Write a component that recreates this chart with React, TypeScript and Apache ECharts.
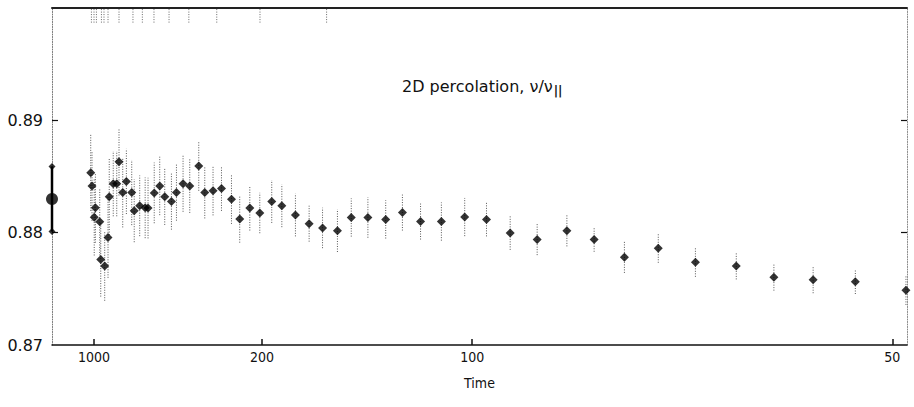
import React, { useEffect, useRef } from "react";
import * as echarts from "echarts";

// Time of each measured point (x axis is linear in 1/Time)
const times = [
  1085, 1050, 968, 995, 880, 862, 797, 750, 734, 686,
  649, 627, 594, 565, 527, 511, 479, 451, 437.5, 411,
  390, 372.7, 351.8, 337.6, 320.6, 305, 286.3, 275, 260.9, 247.9,
  234.1, 223.8, 212.4, 202.2, 191.2, 182.8, 172.6, 163.4, 155.3, 147.2,
  140.4, 133.0, 125.9, 119.9, 114.0, 107.9, 101.8, 96.7, 91.7, 86.6,
  81.6, 77.5, 73.4, 69.3, 65.3, 61.4, 58.2, 55.2, 52.3, 49.2,
];
// nu / nu_parallel estimate at each time
const values = [
  0.88534, 0.88416, 0.88221, 0.88137, 0.88097, 0.87761, 0.87704, 0.87958, 0.88319, 0.88436,
  0.88436, 0.88631, 0.88357, 0.88456, 0.88357, 0.88195, 0.88239, 0.88221, 0.88219, 0.88354,
  0.88416, 0.88319, 0.88277, 0.88357, 0.88436, 0.88416, 0.88593, 0.88357, 0.88374, 0.88394,
  0.88298, 0.88121, 0.88219, 0.88175, 0.88277, 0.88239, 0.88157, 0.8808, 0.88042, 0.88018,
  0.88135, 0.88135, 0.88118, 0.88179, 0.88099, 0.88099, 0.88139, 0.88117, 0.87997, 0.8794,
  0.88018, 0.8794, 0.87782, 0.87862, 0.87737, 0.87704, 0.87604, 0.87581, 0.87564, 0.87487,
];
// half-length of each error bar
const errors = [
  0.0034, 0.0031, 0.0031, 0.0034, 0.0030, 0.0033, 0.0031, 0.0036, 0.0034, 0.0029,
  0.0029, 0.0030, 0.0031, 0.0029, 0.0029, 0.0028, 0.0027, 0.0027, 0.0027, 0.0027,
  0.0026, 0.0025, 0.0025, 0.0025, 0.0025, 0.0024, 0.0022, 0.0023, 0.0022, 0.0020,
  0.0022, 0.0021, 0.0020, 0.0018, 0.0019, 0.0019, 0.0019, 0.0016, 0.0018, 0.0019,
  0.0017, 0.0018, 0.0017, 0.0016, 0.0016, 0.0017, 0.0017, 0.0015, 0.0015, 0.0014,
  0.0014, 0.0011, 0.0014, 0.0013, 0.0013, 0.0012, 0.0012, 0.0012, 0.0011, 0.0013,
];
// extrapolated value (Time -> infinity)
const extrapolatedValue = 0.883;
const extrapolatedError = 0.0029;

const xTickTimes = [1000, 200, 100, 50];
const yTickLabels = [0.87, 0.88, 0.89];
const yInnerTicks = [0.88, 0.89];
// short dotted marks hanging from the top frame
const topMarkTimes = [1066, 1000, 946, 850, 808, 750, 627, 519, 465, 412, 359, 307, 255, 202, 153];

const FONT_C = "'DejaVu Sans Condensed', 'DejaVu Sans', sans-serif";
const FONT = "'DejaVu Sans', sans-serif";
const INK = "#111";

export default function App() {
  const ref = useRef<HTMLDivElement>(null);
  useEffect(() => {
    if (!ref.current) return;
    const chart = echarts.init(ref.current, undefined, { renderer: "svg" });
    const pts = times.map((t, i) => [1 / t, values[i], errors[i]]);
    const bars = pts.map((p) => [p[0], p[1] - p[2], p[1] + p[2]]);
    const xMin = 0;
    const xMax = 0.02035;
    const extraBar = [[0, extrapolatedValue - extrapolatedError, extrapolatedValue + extrapolatedError]];
    const topMarks = topMarkTimes.map((t) => [1 / t, 0.8987, 0.9]);

    const lineItem = (stroke: string, width: number, dash: number[] | null) =>
      (params: any, api: any) => {
        const a = api.coord([api.value(0), api.value(1)]);
        const b = api.coord([api.value(0), api.value(2)]);
        return {
          type: "line",
          shape: { x1: a[0], y1: a[1], x2: b[0], y2: b[1] },
          style: { stroke, lineWidth: width, lineDash: dash || undefined },
        };
      };

    chart.setOption({
      animation: false,
      backgroundColor: "#fff",
      grid: { left: 52, right: 7, top: 8, bottom: 62, containLabel: false },
      xAxis: [
        {
          type: "value",
          min: xMin,
          max: xMax,
          position: "bottom",
          axisLine: { show: true, onZero: false, lineStyle: { color: INK, width: 1.5 } },
          axisTick: {
            show: true,
            inside: true,
            length: 6,
            customValues: xTickTimes.map((t) => 1 / t),
            lineStyle: { color: INK, width: 1.5 },
          },
          axisLabel: {
            customValues: xTickTimes.map((t) => 1 / t),
            formatter: (v: number) => String(Math.round(1 / v)),
            color: INK,
            fontSize: 14,
            fontFamily: FONT_C,
            margin: 5,
          },
          splitLine: { show: false },
          name: "Time",
          nameLocation: "middle",
          nameGap: 31,
          nameTextStyle: { color: INK, fontSize: 14, fontFamily: FONT_C },
        },
        {
          type: "value",
          min: xMin,
          max: xMax,
          position: "top",
          axisLine: { show: true, onZero: false, lineStyle: { color: "#222", width: 2 } },
          axisTick: { show: false },
          axisLabel: { show: false },
          splitLine: { show: false },
        },
      ],
      yAxis: [
        {
          type: "value",
          min: 0.87,
          max: 0.9,
          position: "left",
          axisLine: { show: true, onZero: false, lineStyle: { color: "#777", width: 1, type: [1, 1.5] } },
          axisTick: {
            show: true,
            inside: true,
            length: 6,
            customValues: yInnerTicks,
            lineStyle: { color: INK, width: 1.2 },
          },
          axisLabel: {
            customValues: yTickLabels,
            formatter: (v: number) => v.toFixed(2),
            color: INK,
            fontSize: 16,
            fontFamily: FONT,
            margin: 9,
          },
          splitLine: { show: false },
        },
        {
          type: "value",
          min: 0.87,
          max: 0.9,
          position: "right",
          axisLine: { show: true, onZero: false, lineStyle: { color: "#888", width: 1, type: [1, 1.5] } },
          axisTick: {
            show: true,
            inside: true,
            length: 6,
            customValues: yInnerTicks,
            lineStyle: { color: INK, width: 1.2 },
          },
          axisLabel: { show: false },
          splitLine: { show: false },
        },
      ],
      graphic: [
        {
          type: "text",
          left: 402,
          top: 78,
          style: {
            text: "2D percolation, ν/ν{s|||}",
            font: `16px ${FONT}`,
            fill: INK,
            rich: {
              s: {
                fontSize: 12,
                fontWeight: "bold",
                fontFamily: FONT,
                fill: INK,
                color: INK,
                verticalAlign: "bottom",
                padding: [10, 0, 0, 1],
              } as any,
            },
          },
        },
      ],
      series: [
        {
          type: "custom",
          name: "top marks",
          data: topMarks,
          encode: { x: 0, y: [1, 2] },
          renderItem: lineItem("#666", 1, [1, 1.5]),
          silent: true,
        },
        {
          type: "custom",
          name: "error bars",
          data: bars,
          encode: { x: 0, y: [1, 2] },
          renderItem: lineItem("#555", 1, [1, 1.5]),
          silent: true,
        },
        {
          type: "scatter",
          name: "points",
          data: pts.map((p) => [p[0], p[1]]),
          symbol: "diamond",
          symbolSize: [9, 9],
          itemStyle: { color: "#000" },
          clip: false,
        },
        {
          type: "custom",
          name: "extrapolated bar",
          data: extraBar,
          encode: { x: 0, y: [1, 2] },
          renderItem: lineItem("#000", 2.5, null),
          clip: false,
        },
        {
          type: "scatter",
          name: "extrapolated caps",
          data: [
            [0, extrapolatedValue - extrapolatedError],
            [0, extrapolatedValue + extrapolatedError],
          ],
          symbol: "diamond",
          symbolSize: 7,
          itemStyle: { color: "#000" },
          clip: false,
        },
        {
          type: "scatter",
          name: "extrapolated",
          data: [[0, extrapolatedValue]],
          symbol: "circle",
          symbolSize: 12,
          itemStyle: { color: "#000" },
          clip: false,
        },
      ],
    });
    return () => chart.dispose();
  }, []);
  return (
    <div
      ref={ref}
      style={{ position: "fixed", left: 0, top: 0, width: 914, height: 407, background: "#fff" }}
    />
  );
}
